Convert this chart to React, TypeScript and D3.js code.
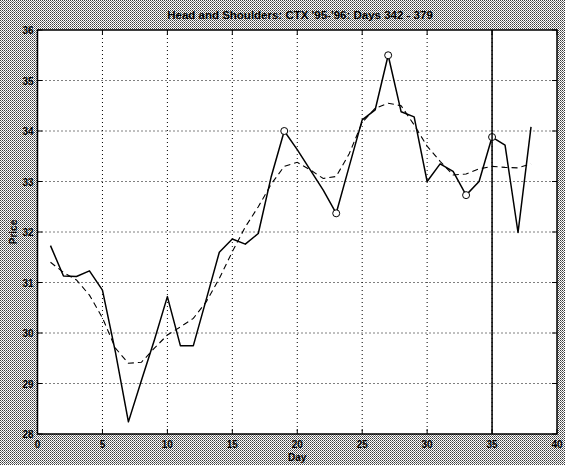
import React from "react";
import * as d3 from "d3";

const days = d3.range(1, 39);
const price = [
  31.73, 31.13, 31.12, 31.23, 30.85, 29.62, 28.24, 29.06, 29.86, 30.72,
  29.75, 29.75, 30.67, 31.6, 31.86, 31.76, 31.97, 33.1, 34.0, 33.63,
  33.23, 32.83, 32.37, 33.3, 34.22, 34.42, 35.5, 34.38, 34.28, 33.0,
  33.35, 33.2, 32.73, 33.0, 33.88, 33.72, 31.99, 34.08,
];
const smooth = [
  31.4, 31.2, 31.05, 30.75, 30.3, 29.7, 29.4, 29.42, 29.7, 29.96,
  30.12, 30.29, 30.62, 31.08, 31.61, 32.1, 32.5, 32.95, 33.3, 33.38,
  33.23, 33.06, 33.1, 33.55, 34.17, 34.45, 34.55, 34.5, 34.12, 33.7,
  33.4, 33.13, 33.15, 33.25, 33.3, 33.28, 33.27, 33.35,
];
const markedDays = [19, 23, 27, 33, 35];
const xTicks = [0, 5, 10, 15, 20, 25, 30, 35, 40];
const yTicks = [28, 29, 30, 31, 32, 33, 34, 35, 36];
const cutDay = 35;
const title = "Head and Shoulders: CTX '95-'96: Days 342 - 379";

export default function App() {
  const W = 565, H = 465;
  const L = 37.5, R = 557, T = 30, B = 434;
  const x = d3.scaleLinear().domain([0, 40]).range([L, R]);
  const y = d3.scaleLinear().domain([28, 36]).range([B, T]);
  const line = d3.line<number>().x((_, i) => x(days[i])).y((d) => y(d));
  const font = "'Liberation Sans', Arial, sans-serif";
  return (
    <svg width={W} height={H} style={{ position: "absolute", left: 0, top: 0 }}>
      <defs>
        <pattern id="dither" width="2" height="2" patternUnits="userSpaceOnUse">
          <rect width="2" height="2" fill="#ffffff" />
          <rect width="1" height="1" fill="#3a3a3a" />
          <rect x="1" y="1" width="1" height="1" fill="#7a7a7a" />
        </pattern>
        <clipPath id="plot">
          <rect x={L} y={T} width={R - L} height={B - T} />
        </clipPath>
      </defs>
      <rect width={W} height={H} fill="url(#dither)" />
      <rect x={L} y={T} width={R - L} height={B - T} fill="#fff" />
      {xTicks.slice(1, -1).map((t) => (
        <line key={"gx" + t} x1={x(t)} x2={x(t)} y1={T} y2={B} stroke="#000" strokeWidth={1} strokeDasharray="1,3" />
      ))}
      {yTicks.slice(1, -1).map((t) => (
        <line key={"gy" + t} x1={L} x2={R} y1={y(t)} y2={y(t)} stroke="#000" strokeWidth={1} strokeDasharray="1,3" />
      ))}
      {xTicks.map((t) => (
        <g key={"tx" + t}>
          <line x1={x(t)} x2={x(t)} y1={B} y2={B - 5} stroke="#000" />
          <line x1={x(t)} x2={x(t)} y1={T} y2={T + 5} stroke="#000" />
        </g>
      ))}
      {yTicks.map((t) => (
        <g key={"ty" + t}>
          <line x1={L} x2={L + 5} y1={y(t)} y2={y(t)} stroke="#000" />
          <line x1={R} x2={R - 5} y1={y(t)} y2={y(t)} stroke="#000" />
        </g>
      ))}
      <g clipPath="url(#plot)">
        <path d={line(smooth) || ""} fill="none" stroke="#000" strokeWidth={1.1} strokeDasharray="6,4" />
        <path d={line(price) || ""} fill="none" stroke="#000" strokeWidth={1.5} strokeLinejoin="round" />
        {markedDays.map((d) => (
          <circle key={"m" + d} cx={x(d)} cy={y(price[d - 1])} r={3.5} fill="#fff" stroke="#000" strokeWidth={1} />
        ))}
        <line x1={x(cutDay)} x2={x(cutDay)} y1={T} y2={B} stroke="#000" strokeWidth={1.5} />
      </g>
      <rect x={L} y={T} width={R - L} height={B - T} fill="none" stroke="#000" strokeWidth={1.5} />
      {xTicks.map((t) => (
        <text key={"lx" + t} x={x(t)} y={B + 14} textAnchor="middle" fontFamily={font} fontWeight="bold" fontSize={10}>
          {t}
        </text>
      ))}
      {yTicks.map((t) => (
        <text key={"ly" + t} x={L - 4} y={y(t) + 4} textAnchor="end" fontFamily={font} fontWeight="bold" fontSize={10}>
          {t}
        </text>
      ))}
      <text x={(L + R) / 2} y={B + 27} textAnchor="middle" fontFamily={font} fontWeight="bold" fontSize={10}>
        Day
      </text>
      <text transform={`translate(17,232) rotate(-90)`} textAnchor="middle" fontFamily={font} fontWeight="bold" fontSize={10}>
        Price
      </text>
      <text x={300} y={19} textAnchor="middle" fontFamily={font} fontWeight="bold" fontSize={11.5}>
        {title}
      </text>
    </svg>
  );
}
